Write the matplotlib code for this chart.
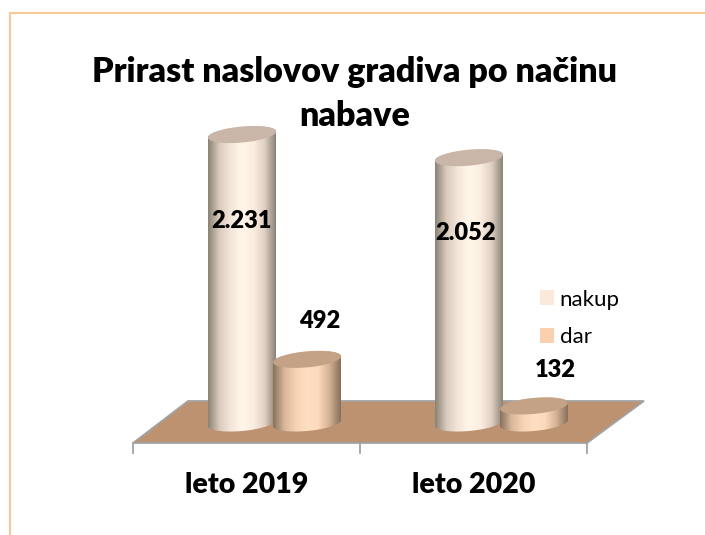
import matplotlib

matplotlib.use("Agg")
import matplotlib.pyplot as plt
import numpy as np
from matplotlib.colors import LinearSegmentedColormap
from matplotlib.patches import Patch, Polygon

plt.rcParams["font.family"] = ["Lato", "DejaVu Sans"]

# data
years = ["leto 2019", "leto 2020"]
series = ["nakup", "dar"]
nakup = [2231, 2052]
dar = [492, 132]
title = "Prirast naslovov gradiva po načinu\nnabave"

# look
PX_X = 227.0  # px per category
PX_Y = 0.1293  # px per unit of value
BASE_PX = 423
OFFSET = 32.5 / PX_X
RADIUS = 34 / PX_X
MINOR = 8 / PX_Y
SHEAR = 3 / PX_Y

stops = {
    "nakup": ["#8a8276", "#d9cabd", "#f3e6da", "#fff6e9", "#fbeee1", "#e0d0c3", "#8a8276"],
    "dar": ["#86705c", "#d9b799", "#f5d2b4", "#ffdfc2", "#fcdabb", "#d4b194", "#86705c"],
}
top_colors = {"nakup": "#c9b6a8", "dar": "#c4a286"}
legend_colors = {"nakup": "#fbe9dc", "dar": "#f9d1b0"}


def cylinder(ax, cx, value, name, z):
    t = np.linspace(0, 2 * np.pi, 121)
    ex = RADIUS * np.cos(t)
    ey = MINOR * np.sin(t) + SHEAR * np.cos(t)

    # body outline: lower arc of the base, then the top edge back
    low = t[60:]
    lx = cx + RADIUS * np.cos(low)
    ly = MINOR * np.sin(low) + SHEAR * np.cos(low)
    up = t[:61]
    ux = cx + RADIUS * np.cos(up)
    uy = value + MINOR * np.sin(up) + SHEAR * np.cos(up)
    body = Polygon(np.column_stack([np.r_[lx, ux], np.r_[ly, uy]]), closed=True,
                   facecolor="none", edgecolor="none", transform=ax.transData)
    ax.add_patch(body)

    cmap = LinearSegmentedColormap.from_list(name, stops[name])
    im = ax.imshow(np.linspace(0, 1, 256).reshape(1, -1), cmap=cmap, aspect="auto",
                   extent=(cx - RADIUS, cx + RADIUS, -2 * MINOR, value + 2 * MINOR),
                   zorder=z, interpolation="bilinear")
    im.set_clip_path(body)
    ax.add_patch(Polygon(np.column_stack([cx + ex, value + ey]), closed=True,
                         facecolor=top_colors[name], edgecolor="none", zorder=z + 0.1))


fig = plt.figure(figsize=(7.05, 5.35), dpi=100)
ax = fig.add_axes([0, 0, 1, 1])
ax.axis("off")
x_low = -274.5 / PX_X
x_high = (705 - 274.5) / PX_X
y_low = -(535 - BASE_PX) / PX_Y
y_high = BASE_PX / PX_Y

# chart area border
ax.plot([x_low + 9.5 / PX_X] * 2 + [x_high], [y_low, y_high - 12.5 / PX_Y, y_high - 12.5 / PX_Y],
        color="#fcc796", lw=1.5, zorder=1, solid_joinstyle="miter")

# floor
front_y = -20 / PX_Y
back_y = 22 / PX_Y
floor = np.array([[-141.5, front_y], [-86.5, back_y], [369.5, back_y], [312.5, front_y]])
floor[:, 0] /= PX_X
ax.add_patch(Polygon(floor, closed=True, facecolor="#bc9270", edgecolor="#a3a3a3", lw=1.3, zorder=2))
for tick in [0, 1, 2]:
    tx = floor[0, 0] + tick
    ax.plot([tx, tx], [front_y, front_y - 10 / PX_Y], color="#a3a3a3", lw=1.3, zorder=2)

# bars, back to front
for i in range(len(years)):
    cylinder(ax, i - OFFSET, nakup[i], "nakup", 3 + 2 * i)
    cylinder(ax, i + OFFSET, dar[i], "dar", 4 + 2 * i)

# value labels
label_x = [241, 320, 466, 555]
label_y = [221, 321, 233, 370]
values = [nakup[0], dar[0], nakup[1], dar[1]]
for v, lx, ly in zip(values, label_x, label_y):
    ax.text((lx - 274.5) / PX_X, (BASE_PX - ly) / PX_Y, f"{v:,}".replace(",", "."),
            ha="center", va="center", fontsize=17, fontweight="heavy", color="black", zorder=20)

# category labels
for i, name in enumerate(years):
    ax.text(i - 28 / PX_X, (BASE_PX - 485) / PX_Y, name, ha="center", va="center",
            fontsize=20.5, fontweight="heavy", color="black", zorder=20)

ax.text((355 - 274.5) / PX_X, (BASE_PX - 94) / PX_Y, title, ha="center", va="center",
        fontsize=24.5, fontweight="heavy", color="black", linespacing=1.5, zorder=20)

handles = [Patch(facecolor=legend_colors[s], edgecolor="none") for s in series]
ax.legend(handles, series, loc="upper left", bbox_to_anchor=(533 / 705, 1 - 283 / 535),
          bbox_transform=fig.transFigure, frameon=False, fontsize=16, handlelength=0.65,
          handleheight=0.65, handletextpad=0.25, labelspacing=0.78, borderpad=0.3, borderaxespad=0)

ax.set_xlim(x_low, x_high)
ax.set_ylim(y_low, y_high)
fig.savefig("out.png", dpi=100, facecolor="white")
